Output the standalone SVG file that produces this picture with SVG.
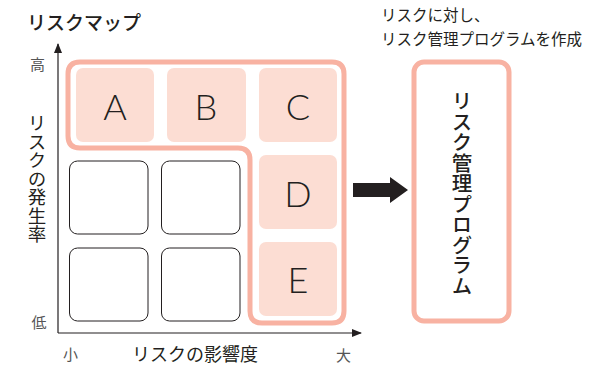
<svg xmlns="http://www.w3.org/2000/svg" width="594" height="365" viewBox="0 0 594 365">
<style>
.cell{fill:#fcddd3}
.empty{fill:#fff;stroke:#231f20;stroke-width:1}
.hl{fill:none;stroke:#f8b2a2;stroke-width:5}
.ltr{font-family:Lato,"Liberation Sans",sans-serif;font-weight:300;font-size:36px;fill:#231f20;text-anchor:middle}
.ax{font-family:"Noto Sans CJK JP",sans-serif;font-size:15px;fill:#555}
.lbl{font-family:"Noto Sans CJK JP",sans-serif;fill:#231f20}
</style>
<defs>
<marker id="ah" markerWidth="10" markerHeight="8" refX="9" refY="4" orient="auto" markerUnits="userSpaceOnUse">
<path d="M0,0 L10,4 L0,8 Z" fill="#231f20"/>
</marker>
</defs>
<rect width="594" height="365" fill="#fff"/>
<text class="lbl" x="27" y="30" font-size="19" font-weight="500">リスクマップ</text>
<text class="lbl" x="381" y="21" font-size="15.5" fill="#333">リスクに対し、</text>
<text class="lbl" x="381" y="45" font-size="15.5" fill="#333">リスク管理プログラムを作成</text>
<g id="connectors">
<line x1="58" y1="333" x2="58" y2="44" stroke="#231f20" stroke-width="1.2" marker-end="url(#ah)"/>
<line x1="58" y1="333" x2="361" y2="333" stroke="#231f20" stroke-width="1.2" marker-end="url(#ah)"/>
<path d="M353,183 H390 V177 L408,190 L390,203 V197 H353 Z" fill="#231f20"/>
</g>
<g id="axis-labels">
<text class="ax" x="37.5" y="70" text-anchor="middle">高</text>
<text class="ax" x="39" y="328" text-anchor="middle">低</text>
<text class="ax" x="70.5" y="360" text-anchor="middle">小</text>
<text class="ax" x="343.5" y="361" text-anchor="middle">大</text>
<text class="lbl" x="37" y="114" font-size="18.5" fill="#333" style="writing-mode:vertical-rl;text-orientation:upright">リスクの発生率</text>
<text class="lbl" x="195" y="361" font-size="18" fill="#333" text-anchor="middle">リスクの影響度</text>
</g>
<g id="highlight">
<path class="hl" d="M80,62 H332 Q344,62 344,74 V311 Q344,323 332,323 H262 Q250,323 250,311 V160 Q250,148 238,148 H80 Q68,148 68,136 V74 Q68,62 80,62 Z"/>
</g>
<g id="cell-A"><rect class="cell" x="76" y="68" width="78" height="74" rx="7"/><text class="ltr" x="115" y="120">A</text></g>
<g id="cell-B"><rect class="cell" x="167" y="68" width="79" height="74" rx="7"/><text class="ltr" x="206" y="120">B</text></g>
<g id="cell-C"><rect class="cell" x="259" y="68" width="78" height="74" rx="7"/><text class="ltr" x="298" y="120">C</text></g>
<g id="cell-D"><rect class="cell" x="259" y="155" width="78" height="74" rx="7"/><text class="ltr" x="298" y="207">D</text></g>
<g id="cell-E"><rect class="cell" x="259" y="242" width="78" height="74" rx="7"/><text class="ltr" x="298" y="293">E</text></g>
<g id="cell-11"><rect class="empty" x="69.5" y="161" width="78.5" height="73" rx="8"/></g>
<g id="cell-12"><rect class="empty" x="161.5" y="161" width="78.5" height="73" rx="8"/></g>
<g id="cell-21"><rect class="empty" x="69.5" y="248" width="78.5" height="73" rx="8"/></g>
<g id="cell-22"><rect class="empty" x="161.5" y="248" width="78.5" height="73" rx="8"/></g>
<g id="program">
<rect x="414" y="62" width="95" height="259" rx="10" fill="#fff" stroke="#f8b2a2" stroke-width="5"/>
<text class="lbl" x="462" y="91" font-size="20.5" font-weight="500" style="writing-mode:vertical-rl;text-orientation:upright">リスク管理プログラム</text>
</g>
</svg>
